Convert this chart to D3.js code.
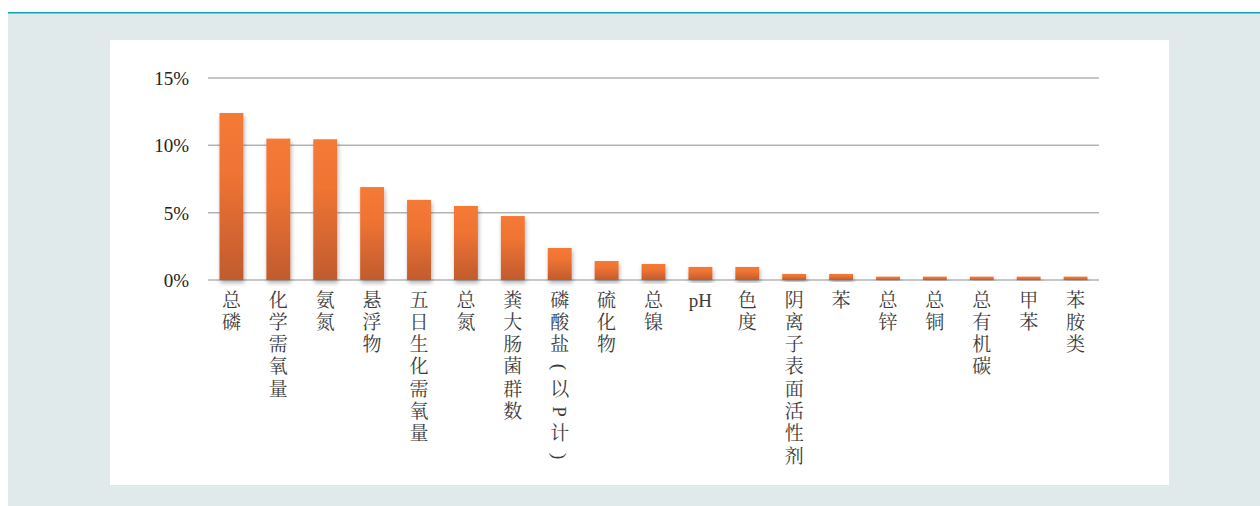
<!DOCTYPE html>
<html>
<head>
<meta charset="utf-8">
<script src="https://cdn.jsdelivr.net/npm/d3@7"></script>
<style>
  html, body { margin: 0; padding: 0; background: #fff; }
  svg { display: block; }
</style>
</head>
<body>
<script>
// Data
let categories = ["总磷", "化学需氧量", "氨氮", "悬浮物", "五日生化需氧量", "总氮", "粪大肠菌群数",
  "磷酸盐(以P计)", "硫化物", "总镍", "pH", "色度", "阴离子表面活性剂", "苯", "总锌", "总铜",
  "总有机碳", "甲苯", "苯胺类"];
let shares = [12.4, 10.5, 10.45, 6.9, 5.95, 5.5, 4.75, 2.38, 1.41, 1.19, 0.97, 0.97, 0.45, 0.45,
  0.25, 0.25, 0.25, 0.25, 0.25];
let yTicks = [0, 5, 10, 15];

let width = 1260;
let height = 506;
let font = "'Liberation Serif', 'Noto Serif CJK SC', 'Noto Sans CJK SC', serif";

let svg = d3.select("body")
  .append("svg")
  .attr("width", width)
  .attr("height", height);

// page background, teal rule, white panel
svg.append("rect").attr("x", 8).attr("y", 13).attr("width", width - 8).attr("height", height - 13)
  .attr("fill", "#e1eaeb");
svg.append("rect").attr("x", 8).attr("y", 12).attr("width", width - 8).attr("height", 1.5)
  .attr("fill", "#12a3b3");
svg.append("rect").attr("x", 110).attr("y", 40).attr("width", 1059).attr("height", 445)
  .attr("fill", "#fff");

let defs = svg.append("defs");
let grad = defs.append("linearGradient")
  .attr("id", "barFill")
  .attr("x1", 0).attr("y1", 0).attr("x2", 0).attr("y2", 1);
grad.append("stop").attr("offset", "0%").attr("stop-color", "#f57a36");
grad.append("stop").attr("offset", "35%").attr("stop-color", "#ef7433");
grad.append("stop").attr("offset", "100%").attr("stop-color", "#c15b2e");

let shadow = defs.append("filter").attr("id", "shadow")
  .attr("x", "-30%").attr("y", "-10%").attr("width", "160%").attr("height", "130%");
shadow.append("feDropShadow")
  .attr("dx", 1).attr("dy", 3).attr("stdDeviation", 2.2)
  .attr("flood-color", "#000").attr("flood-opacity", 0.3);

let x = d3.scaleBand()
  .domain(categories)
  .range([208, 1099])
  .paddingInner(0.49)
  .paddingOuter(0.245);

let y = d3.scaleLinear()
  .domain([0, 15])
  .range([280, 78]);

// gridlines
svg.append("g")
  .selectAll("line")
  .data(yTicks)
  .join("line")
  .attr("x1", 208).attr("x2", 1099)
  .attr("y1", d => y(d)).attr("y2", d => y(d))
  .attr("stroke", "#b4b4b4")
  .attr("stroke-width", 1.5);

// y tick labels
svg.append("g")
  .selectAll("text")
  .data(yTicks)
  .join("text")
  .attr("x", 189)
  .attr("y", d => y(d) + 7)
  .attr("text-anchor", "end")
  .attr("font-family", font)
  .attr("font-size", 19)
  .attr("fill", "#222")
  .text(d => d + "%");

// bars
svg.append("g")
  .selectAll("rect")
  .data(categories)
  .join("rect")
  .attr("x", d => x(d))
  .attr("width", x.bandwidth())
  .attr("y", (d, i) => y(shares[i]))
  .attr("height", (d, i) => y(0) - y(shares[i]))
  .attr("fill", "url(#barFill)")
  .attr("filter", "url(#shadow)");

// category labels, one character per line (pH stays horizontal)
let rotated = new Set(["(", ")", "P"]);
let labels = svg.append("g")
  .attr("font-family", font)
  .attr("font-size", 19)
  .attr("fill", "#3c3c3c");

for (let name of categories) {
  let cx = x(name) + x.bandwidth() / 2;
  if (name == "pH") {
    labels.append("text")
      .attr("x", cx).attr("y", 307)
      .attr("text-anchor", "middle")
      .text(name);
    continue;
  }
  let chars = Array.from(name);
  chars.forEach((c, i) => {
    let cy = 300 + i * 22.3;
    let t = labels.append("text")
      .attr("text-anchor", "middle")
      .attr("dominant-baseline", "central")
      .text(c);
    if (rotated.has(c)) {
      t.attr("transform", `translate(${cx},${cy}) rotate(90)`);
    } else {
      t.attr("x", cx).attr("y", cy);
    }
  });
}
</script>
</body>
</html>
